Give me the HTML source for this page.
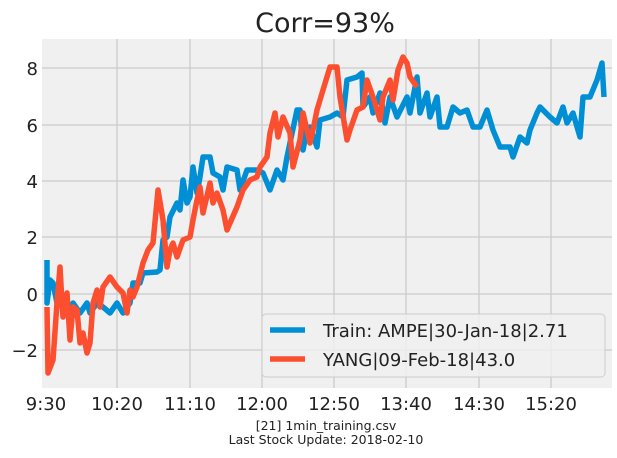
<!DOCTYPE html>
<html><head><style>body{margin:0;background:#fff}svg{display:block;font-family:"DejaVu Sans","Liberation Sans",sans-serif}</style></head><body>
<svg width="617" height="458" xmlns="http://www.w3.org/2000/svg">
<rect width="617" height="458" fill="#fff"/>
<rect x="42" y="39" width="570" height="349" fill="#f0f0f0"/>
<g stroke="#cbcbcb" stroke-width="1.3">
<line x1="117" y1="39" x2="117" y2="388"/><line x1="190" y1="39" x2="190" y2="388"/><line x1="262" y1="39" x2="262" y2="388"/><line x1="334" y1="39" x2="334" y2="388"/><line x1="406" y1="39" x2="406" y2="388"/><line x1="479" y1="39" x2="479" y2="388"/><line x1="551" y1="39" x2="551" y2="388"/>
<line x1="42" y1="68" x2="612" y2="68"/><line x1="42" y1="125" x2="612" y2="125"/><line x1="42" y1="181" x2="612" y2="181"/><line x1="42" y1="237" x2="612" y2="237"/><line x1="42" y1="294" x2="612" y2="294"/><line x1="42" y1="350" x2="612" y2="350"/>
</g>
<g fill="none" stroke-width="5.5" stroke-linejoin="round">
<polyline stroke="#008fd5" points="47,260 47,303 50,280 53,283 57,303 63,303 67,313 73,303 80,313 87,303 90,313 97,303 103,307 110,313 117,303 123,313 130,303 133,283 140,283 143,273 157,272 160,270 163,240 167,237 170,217 177,203 180,210 183,180 187,203 190,197 193,167 197,193 200,177 203,157 210,157 213,173 220,177 223,190 227,167 237,170 240,190 247,170 257,170 263,173 270,190 277,170 283,180 287,157 297,110 300,110 303,150 307,130 310,127 317,147 320,120 330,117 337,113 343,117 347,80 357,77 362,73 363,107 370,97 373,113 380,93 385,123 390,97 397,117 407,97 410,113 417,77 420,113 427,93 430,117 437,97 440,127 447,127 453,107 460,113 467,110 473,127 480,127 487,110 493,130 500,147 510,147 513,157 520,137 527,143 530,130 537,113 540,107 550,117 557,123 563,107 567,123 573,113 580,137 583,97 590,97 597,80 602,63 604,97"/>
<polyline stroke="#fc4f30" points="47,307 48,373 53,360 57,303 60,267 62,303 63,317 67,293 70,340 73,307 77,310 80,343 83,333 87,353 90,343 93,303 97,290 100,307 103,287 110,277 117,287 123,293 127,313 130,290 133,297 137,287 143,263 148,250 153,243 158,190 163,220 167,267 170,250 173,243 177,257 183,240 190,237 193,220 197,200 200,187 203,213 210,183 213,203 217,193 223,210 227,230 230,223 237,207 243,190 250,180 257,177 260,167 267,157 270,133 275,113 278,137 283,117 290,133 293,167 300,140 303,113 307,130 310,143 313,130 317,110 323,90 330,67 337,67 340,97 347,140 350,130 357,110 363,107 367,80 373,97 380,120 383,97 390,80 393,100 398,70 403,57 407,63 410,77 417,87"/>
</g>
<rect x="262" y="314" width="343" height="63" rx="4" fill="#f0f0f0" fill-opacity="0.85" stroke="#cccccc"/>
<line x1="270" y1="330" x2="305" y2="330" stroke="#008fd5" stroke-width="5.5"/>
<line x1="270" y1="359" x2="305" y2="359" stroke="#fc4f30" stroke-width="5.5"/>
<g font-size="18" fill="#222">
<text x="323" y="337">Train: AMPE|30-Jan-18|2.71</text>
<text x="323" y="366">YANG|09-Feb-18|43.0</text>
</g>
<text x="325" y="32" font-size="27" text-anchor="middle" fill="#222">Corr=93%</text>
<g font-size="18" fill="#222" text-anchor="end">
<text x="38" y="75">8</text><text x="38" y="132">6</text><text x="38" y="188">4</text><text x="38" y="244">2</text><text x="38" y="301">0</text><text x="38" y="357">−2</text>
</g>
<g font-size="18" fill="#222" text-anchor="middle">
<text x="46" y="410">9:30</text><text x="117" y="410">10:20</text><text x="190" y="410">11:10</text><text x="262" y="410">12:00</text><text x="334" y="410">12:50</text><text x="406" y="410">13:40</text><text x="479" y="410">14:30</text><text x="551" y="410">15:20</text>
</g>
<g font-size="12.5" fill="#222" text-anchor="middle">
<text x="326" y="430">[21] 1min_training.csv</text>
<text x="326" y="444">Last Stock Update: 2018-02-10</text>
</g>
</svg>
</body></html>
